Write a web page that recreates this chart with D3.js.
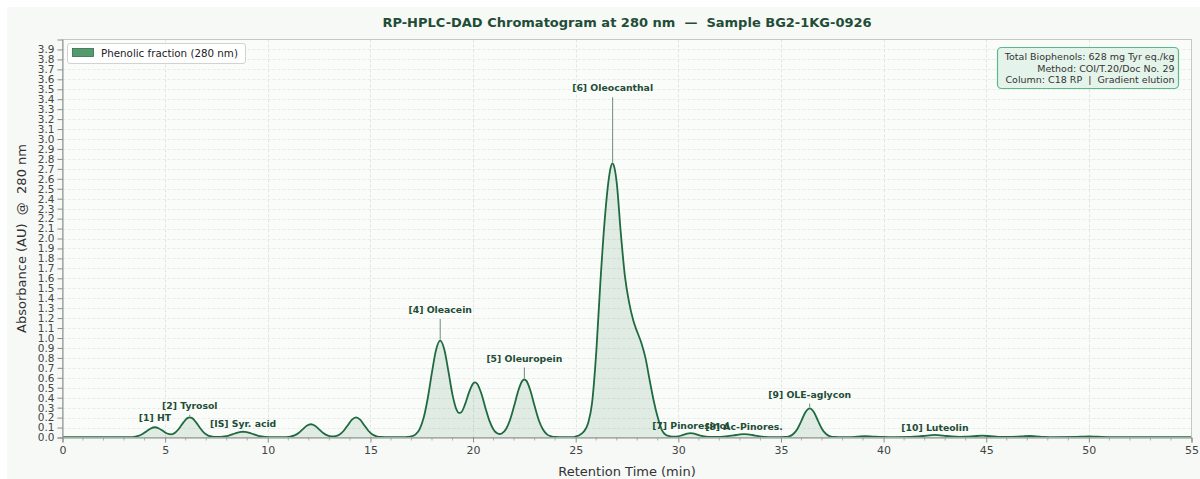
<!DOCTYPE html>
<html>
<head>
<meta charset="utf-8">
<script src="https://cdn.jsdelivr.net/npm/d3@7/dist/d3.min.js"></script>
<style>
  html, body { margin: 0; padding: 0; background: #ffffff; }
  svg { display: block; font-family: "DejaVu Sans", sans-serif; }
  text { white-space: pre; }
</style>
</head>
<body>
<svg id="chart" width="1200" height="479"></svg>
<script>
// ---------------- DATA ----------------
const retentionTimes = [
  0, 3.0, 3.3, 3.5, 3.7, 3.9, 4.1, 4.3, 4.5, 4.7, 4.9, 5.1, 5.3, 5.5, 5.7, 5.9, 6.1, 6.2, 6.3, 6.5, 6.7, 6.9, 7.1, 7.3, 7.5,
  7.7, 7.9, 8.1, 8.3, 8.5, 8.7, 8.8, 8.9, 9.1, 9.3, 9.5, 9.7, 9.9, 10.2, 10.5, 10.9,
  11.1, 11.3, 11.5, 11.7, 11.9, 12.1, 12.3, 12.5, 12.7, 12.9, 13.1, 13.3, 13.5, 13.7, 13.9, 14.1, 14.3, 14.5, 14.7, 14.9,
  15.1, 15.3, 15.5, 15.9, 16.4, 16.6, 16.8, 17.0, 17.2, 17.4, 17.6, 17.8, 18.0, 18.2, 18.4, 18.6, 18.8, 19.0, 19.2, 19.3,
  19.4, 19.6, 19.8, 20.0, 20.1, 20.2, 20.4, 20.6, 20.8, 21.0, 21.2, 21.3, 21.4, 21.6, 21.8, 22.0, 22.2, 22.4, 22.5, 22.6,
  22.8, 23.0, 23.2, 23.4, 23.6, 23.8, 24.0, 24.4, 24.8, 25.0, 25.2, 25.4, 25.6, 25.8, 26.0, 26.2, 26.4, 26.6, 26.7, 26.8,
  26.9, 27.0, 27.2, 27.4, 27.6, 27.8, 28.0, 28.2, 28.4, 28.6, 28.8, 29.0, 29.2, 29.4, 29.6, 29.8, 30.0, 30.2, 30.4, 30.6,
  30.8, 31.0, 31.2, 31.5, 31.9, 32.2, 32.5, 32.8, 33.0, 33.2, 33.4, 33.6, 33.9, 34.2, 34.6, 35.0, 35.2, 35.4, 35.6, 35.8,
  36.0, 36.2, 36.4, 36.6, 36.8, 37.0, 37.2, 37.4, 37.6, 37.8, 38.3, 38.7, 39.1, 39.5, 39.9, 40.5, 41.3, 41.7, 42.1, 42.5,
  42.9, 43.3, 43.7, 44.0, 44.4, 44.8, 45.2, 45.6, 46.0, 46.5, 46.8, 47.1, 47.4, 47.8, 48.3, 49.4, 49.7, 50.0, 50.3, 50.6,
  51.2, 52.5, 55.0
];
const absorbance = [
  0.003, 0.003, 0.004, 0.007, 0.017, 0.035, 0.064, 0.091, 0.103, 0.091, 0.065, 0.040, 0.032, 0.051, 0.096, 0.154, 0.197, 0.203, 0.197, 0.154, 0.096, 0.046, 0.019, 0.008, 0.005,
  0.006, 0.010, 0.019, 0.033, 0.047, 0.057, 0.058, 0.057, 0.047, 0.033, 0.019, 0.010, 0.006, 0.0035, 0.003, 0.004,
  0.009, 0.021, 0.045, 0.082, 0.118, 0.133, 0.118, 0.082, 0.045, 0.021, 0.011, 0.013, 0.030, 0.068, 0.124, 0.180, 0.203, 0.180, 0.124, 0.068,
  0.030, 0.012, 0.005, 0.003, 0.003, 0.003, 0.005, 0.011, 0.031, 0.085, 0.203, 0.402, 0.657, 0.882, 0.973, 0.884, 0.665, 0.429, 0.277, 0.247,
  0.249, 0.327, 0.451, 0.542, 0.554, 0.540, 0.444, 0.300, 0.167, 0.079, 0.040, 0.035, 0.041, 0.083, 0.176, 0.316, 0.468, 0.569, 0.583, 0.569,
  0.468, 0.316, 0.176, 0.083, 0.032, 0.012, 0.005, 0.003, 0.004, 0.010, 0.025, 0.060, 0.140, 0.350, 0.850, 1.550, 2.150, 2.580, 2.710, 2.755,
  2.700, 2.560, 2.050, 1.620, 1.360, 1.180, 1.060, 0.950, 0.800, 0.580, 0.370, 0.200, 0.075, 0.025, 0.012, 0.008, 0.012, 0.024, 0.037, 0.044,
  0.037, 0.024, 0.013, 0.007, 0.006, 0.009, 0.016, 0.025, 0.031, 0.034, 0.031, 0.025, 0.014, 0.007, 0.004, 0.004, 0.005, 0.012, 0.035, 0.086,
  0.170, 0.256, 0.293, 0.256, 0.170, 0.086, 0.035, 0.012, 0.005, 0.004, 0.004, 0.008, 0.014, 0.009, 0.005, 0.004, 0.005, 0.010, 0.019, 0.026,
  0.019, 0.010, 0.006, 0.008, 0.013, 0.018, 0.013, 0.007, 0.005, 0.008, 0.012, 0.015, 0.012, 0.007, 0.004, 0.006, 0.009, 0.011, 0.009, 0.006,
  0.004, 0.003, 0.003
];

const peakNames   = ["[1] HT", "[2] Tyrosol", "[IS] Syr. acid", "[4] Oleacein", "[5] Oleuropein", "[6] Oleocanthal",
                     "[7] Pinoresinol", "[8] Ac-Pinores.", "[9] OLE-aglycon", "[10] Luteolin"];
const peakTimes   = [4.5, 6.2, 8.8, 18.4, 22.5, 26.8, 30.6, 33.2, 36.4, 42.5];
const peakHeights = [0.103, 0.203, 0.058, 0.973, 0.583, 2.755, 0.044, 0.034, 0.293, 0.026];

const xTicks = [0, 5, 10, 15, 20, 25, 30, 35, 40, 45, 50, 55];
const yTicks = d3.range(0, 40).map(i => i / 10);   // 0.0 … 3.9

const titleText  = "RP-HPLC-DAD Chromatogram at 280 nm  \u2014  Sample BG2-1KG-0926";
const xLabelText = "Retention Time (min)";
const yLabelText = "Absorbance (AU)  @  280 nm";
const legendText = "Phenolic fraction (280 nm)";
const infoLines  = ["Total Biophenols: 628 mg Tyr eq./kg", "Method: COI/T.20/Doc No. 29", "Column: C18 RP  |  Gradient elution"];

// ---------------- LAYOUT ----------------
const W = 1200, H = 479;
const M = { left: 62.5, right: 1191.5, top: 39.5, bottom: 437.5 };
const svg = d3.select("#chart");

svg.append("rect").attr("x", 7).attr("y", 7).attr("width", W - 7).attr("height", H - 7).attr("fill", "#f6f9f6");
svg.append("rect").attr("x", M.left).attr("y", M.top).attr("width", M.right - M.left).attr("height", M.bottom - M.top)
   .attr("fill", "#fafcfa");

const x = d3.scaleLinear().domain([0, 55]).range([M.left, M.right]);
const y = d3.scaleLinear().domain([0, 4.0]).range([M.bottom, M.top]);

// grid
const grid = svg.append("g");
grid.selectAll(".hg").data(yTicks.filter(v => v > 0)).join("line")
  .attr("x1", M.left).attr("x2", M.right)
  .attr("y1", d => Math.round(y(d)) + 0.5).attr("y2", d => Math.round(y(d)) + 0.5)
  .attr("stroke", "#e3e6e3").attr("stroke-width", 0.8).attr("stroke-dasharray", "3,2");
grid.selectAll(".vg").data(xTicks.filter(v => v > 0 && v < 55)).join("line")
  .attr("y1", M.top).attr("y2", M.bottom)
  .attr("x1", d => Math.round(x(d)) + 0.5).attr("x2", d => Math.round(x(d)) + 0.5)
  .attr("stroke", "#dcdfdc").attr("stroke-width", 0.8).attr("stroke-dasharray", "3,2");

// trace
const pts = retentionTimes.map((t, i) => [t, absorbance[i]]);
const area = d3.area().x(d => x(d[0])).y0(y(0)).y1(d => y(d[1])).curve(d3.curveMonotoneX);
const line = d3.line().x(d => x(d[0])).y(d => y(d[1])).curve(d3.curveMonotoneX);
svg.append("path").datum(pts).attr("d", area).attr("fill", "#2e7d4f").attr("fill-opacity", 0.13);
svg.append("path").datum(pts).attr("d", line).attr("fill", "none").attr("stroke", "#1f6b3f").attr("stroke-width", 1.8);

// frame
svg.append("rect").attr("x", M.left).attr("y", M.top).attr("width", M.right - M.left).attr("height", M.bottom - M.top)
   .attr("fill", "none").attr("stroke", "#c4c7c4").attr("stroke-width", 1);

// axes
const xAxis = d3.axisBottom(x).tickValues(xTicks).tickFormat(d3.format("d")).tickSize(5).tickPadding(4);
const gx = svg.append("g").attr("transform", `translate(0,${M.bottom})`).call(xAxis);
gx.select(".domain").attr("stroke", "#8a8f8a");
gx.selectAll(".tick line").attr("stroke", "#8a8f8a");
gx.selectAll(".tick text").attr("fill", "#444").style("font-size", "11px").style("font-family", "DejaVu Sans");
const minorX = d3.range(0, 56).filter(v => v % 5 !== 0);
svg.append("g").selectAll("line").data(minorX).join("line")
  .attr("x1", d => x(d)).attr("x2", d => x(d)).attr("y1", M.bottom).attr("y2", M.bottom + 3)
  .attr("stroke", "#9a9f9a").attr("stroke-width", 0.8);

const yAxis = d3.axisLeft(y).tickValues(yTicks).tickFormat(d3.format(".1f")).tickSize(5).tickPadding(3);
const gy = svg.append("g").attr("transform", `translate(${M.left},0)`).call(yAxis);
gy.select(".domain").attr("stroke", "#8a8f8a");
gy.selectAll(".tick line").attr("stroke", "#8a8f8a");
gy.selectAll(".tick text").attr("fill", "#444").style("font-size", "10.5px").style("font-family", "DejaVu Sans");

// axis labels & title
svg.append("text").attr("x", (M.left + M.right) / 2).attr("y", 476).attr("text-anchor", "middle")
   .attr("fill", "#333").style("font-size", "13px").text(xLabelText);
svg.append("text").attr("transform", `translate(26,${(M.top + M.bottom) / 2}) rotate(-90)`).attr("text-anchor", "middle")
   .attr("fill", "#333").style("font-size", "13px").text(yLabelText);
svg.append("text").attr("x", (M.left + M.right) / 2).attr("y", 27).attr("text-anchor", "middle")
   .attr("fill", "#1f4d36").style("font-size", "13px").style("font-weight", "bold").text(titleText);

// peak annotations
const ann = svg.append("g");
peakNames.forEach((name, i) => {
  const px = x(peakTimes[i]);
  const labelBase = y(peakHeights[i] * 1.25 + 0.035);
  const lineTop = labelBase + 6;
  const lineBot = y(peakHeights[i]) - 1;
  if (lineBot - lineTop > 1) {
    ann.append("line").attr("x1", px).attr("x2", px).attr("y1", lineTop).attr("y2", lineBot)
       .attr("stroke", "#6f8a7b").attr("stroke-width", 1);
  }
  ann.append("text").attr("x", px).attr("y", labelBase).attr("text-anchor", "middle")
     .attr("fill", "#1f4d36").style("font-size", "9.3px").style("font-weight", "bold").text(name);
});

// legend
const lg = svg.append("g");
lg.append("rect").attr("x", 67.5).attr("y", 43.5).attr("width", 178).attr("height", 20).attr("rx", 2.5)
  .attr("fill", "#ffffff").attr("fill-opacity", 0.85).attr("stroke", "#d0d3d0");
lg.append("rect").attr("x", 72.5).attr("y", 48.5).attr("width", 21).attr("height", 8)
  .attr("fill", "#55996f").attr("stroke", "#2f6e4a").attr("stroke-width", 0.8);
lg.append("text").attr("x", 101).attr("y", 57).attr("fill", "#222").style("font-size", "10.3px").text(legendText);

// info box
const ib = svg.append("g");
ib.append("rect").attr("x", 997.5).attr("y", 47.5).attr("width", 181).attr("height", 41).attr("rx", 4)
  .attr("fill", "#e5f4ea").attr("stroke", "#5cb88a").attr("stroke-width", 1.2);
infoLines.forEach((t, i) => {
  ib.append("text").attr("x", 1174.5).attr("y", 60 + i * 11.7).attr("text-anchor", "end")
    .attr("fill", "#333").style("font-size", "9.5px").text(t);
});
</script>
</body>
</html>
